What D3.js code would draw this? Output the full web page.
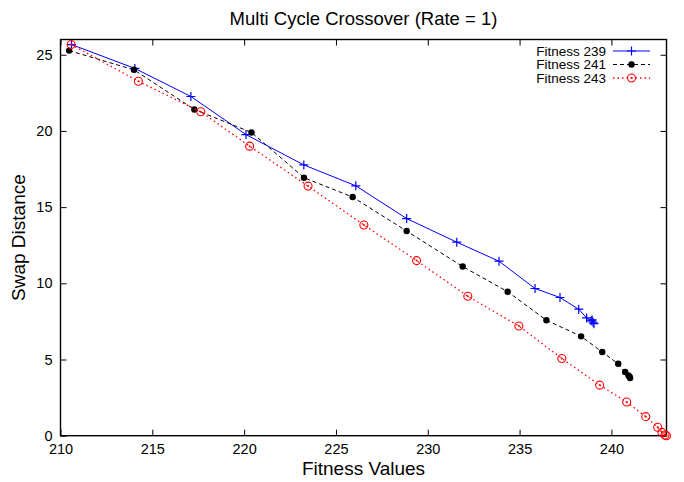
<!DOCTYPE html>
<html>
<head>
<meta charset="utf-8">
<script src="https://cdn.jsdelivr.net/npm/d3@7"></script>
<style>
  body { margin: 0; background: #fff; }
  svg { display: block; font-family: "Liberation Sans", Arial, Helvetica, sans-serif; }
</style>
</head>
<body>
<svg id="chart" width="684" height="482"></svg>
<script>
const title = "Multi Cycle Crossover (Rate = 1)";
const xLabel = "Fitness Values";
const yLabel = "Swap Distance";
const xTicks = [210, 215, 220, 225, 230, 235, 240];
const yTicks = [0, 5, 10, 15, 20, 25];
const seriesNames = ["Fitness 239", "Fitness 241", "Fitness 243"];

const fit239X = [210.6, 214.05, 217.1, 220.1, 223.25, 226.08, 228.85, 231.58, 233.88, 235.84, 237.2, 238.22, 238.65, 238.9, 239.0, 239.05, 238.95];
const fit239Y = [25.67, 24.1, 22.26, 19.76, 17.77, 16.4, 14.25, 12.7, 11.45, 9.66, 9.07, 8.3, 7.73, 7.55, 7.45, 7.35, 7.6];

const fit241X = [210.47, 214.0, 217.29, 220.4, 223.26, 225.91, 228.85, 231.9, 234.35, 236.46, 238.35, 239.5, 240.37, 240.75, 240.93, 241.0, 241.02];
const fit241Y = [25.27, 24.01, 21.41, 19.9, 16.93, 15.66, 13.43, 11.1, 9.45, 7.58, 6.52, 5.49, 4.72, 4.18, 3.95, 3.85, 3.78];

const fit243X = [210.58, 214.24, 217.64, 220.3, 223.48, 226.52, 229.39, 232.18, 234.96, 237.3, 239.36, 240.83, 241.87, 242.52, 242.75, 242.92, 243.0];
const fit243Y = [25.67, 23.26, 21.26, 19.0, 16.38, 13.83, 11.49, 9.15, 7.2, 5.07, 3.32, 2.21, 1.25, 0.55, 0.22, 0.05, 0.0];

const svg = d3.select("#chart");
const L = 60.5, R = 666.5, T = 39.5, B = 435.7;
const x = d3.scaleLinear().domain([210, 243]).range([L, R]);
const y = d3.scaleLinear().domain([0, 26]).range([B, T]);

// axes with inward ticks
const fs = "14.5px";
const gx = svg.append("g").attr("transform", `translate(0,${B})`)
  .call(d3.axisBottom(x).tickValues(xTicks).tickSize(-6).tickPadding(8).tickFormat(d3.format("d")));
const gxt = svg.append("g").attr("transform", `translate(0,${T})`)
  .call(d3.axisTop(x).tickValues(xTicks).tickSize(-6).tickFormat(""));
const gy = svg.append("g").attr("transform", `translate(${L},0)`)
  .call(d3.axisLeft(y).tickValues(yTicks).tickSize(-6).tickPadding(8).tickFormat(d3.format("d")));
const gyr = svg.append("g").attr("transform", `translate(${R},0)`)
  .call(d3.axisRight(y).tickValues(yTicks).tickSize(-6).tickFormat(""));
[gx, gxt, gy, gyr].forEach(g => {
  g.select(".domain").remove();
  g.selectAll(".tick line").attr("stroke", "#000").attr("stroke-width", 1);
  g.selectAll(".tick text").attr("fill", "#000").style("font-size", fs)
    .style("font-family", '"Liberation Sans", Arial, sans-serif');
});

// frame
svg.append("rect").attr("x", L).attr("y", T).attr("width", R - L).attr("height", B - T)
  .attr("fill", "none").attr("stroke", "#000").attr("stroke-width", 1.4);

// titles
svg.append("text").attr("x", (L + R) / 2).attr("y", 25).attr("text-anchor", "middle")
  .style("font-size", "18.5px").text(title);
svg.append("text").attr("x", (L + R) / 2).attr("y", 475).attr("text-anchor", "middle")
  .style("font-size", "19px").text(xLabel);
svg.append("text").attr("transform", `translate(25,${(T + B) / 2}) rotate(-90)`)
  .attr("text-anchor", "middle").style("font-size", "19px").text(yLabel);

const series = [
  { name: seriesNames[0], xs: fit239X, ys: fit239Y, color: "#0000ff", dash: null, marker: "plus" },
  { name: seriesNames[1], xs: fit241X, ys: fit241Y, color: "#000000", dash: "4,3", marker: "dot" },
  { name: seriesNames[2], xs: fit243X, ys: fit243Y, color: "#ff0000", dash: "1.5,3", marker: "circle" }
];

const line = d3.line().x(d => x(d[0])).y(d => y(d[1]));

function drawMarker(g, type, color, cx, cy) {
  if (type === "plus") {
    g.append("path").attr("d", `M${cx - 4.5},${cy}H${cx + 4.5}M${cx},${cy - 4.5}V${cy + 4.5}`)
      .attr("stroke", color).attr("stroke-width", 1.2).attr("fill", "none");
  } else if (type === "dot") {
    g.append("circle").attr("cx", cx).attr("cy", cy).attr("r", 3.2).attr("fill", color);
  } else {
    g.append("circle").attr("cx", cx).attr("cy", cy).attr("r", 4).attr("fill", "none")
      .attr("stroke", color).attr("stroke-width", 1.1);
    g.append("circle").attr("cx", cx).attr("cy", cy).attr("r", 1).attr("fill", color);
  }
}

series.forEach(s => {
  const pts = s.xs.map((v, i) => [v, s.ys[i]]);
  const g = svg.append("g");
  g.append("path").datum(pts).attr("d", line).attr("fill", "none")
    .attr("stroke", s.color).attr("stroke-width", s.marker === "circle" ? 1.3 : 1)
    .attr("stroke-dasharray", s.dash);
  pts.forEach(p => drawMarker(g, s.marker, s.color, x(p[0]), y(p[1])));
});

// legend
const legY = [51, 64.5, 78];
series.forEach((s, i) => {
  const g = svg.append("g");
  g.append("text").attr("x", 606).attr("y", legY[i]).attr("dy", "0.35em")
    .attr("text-anchor", "end").style("font-size", "13.5px").text(s.name);
  g.append("line").attr("x1", 613).attr("x2", 650).attr("y1", legY[i]).attr("y2", legY[i])
    .attr("stroke", s.color).attr("stroke-width", s.marker === "circle" ? 1.3 : 1)
    .attr("stroke-dasharray", s.dash);
  drawMarker(g, s.marker, s.color, 631.5, legY[i]);
});
</script>
</body>
</html>
